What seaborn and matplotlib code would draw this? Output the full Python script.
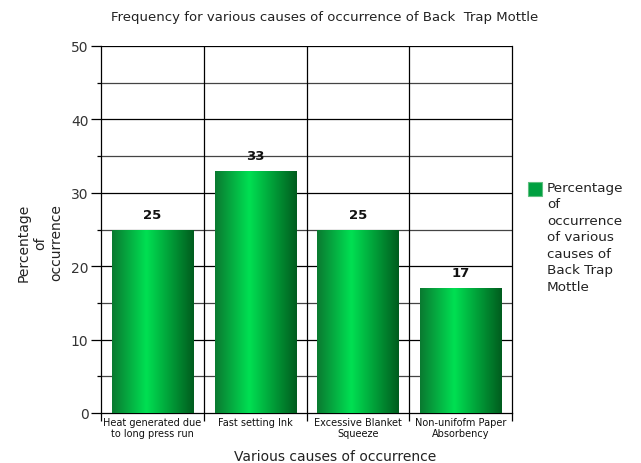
import matplotlib
matplotlib.use("Agg")
import matplotlib.pyplot as plt
import seaborn as sns
import numpy as np
import pandas as pd
from matplotlib.colors import LinearSegmentedColormap
from matplotlib.patches import Rectangle

# Data
causes = ["Heat generated due\nto long press run", "Fast setting Ink",
          "Excessive Blanket\nSqueeze", "Non-unifofm Paper\nAbsorbency"]
percent = [25, 33, 25, 17]
legend_label = "Percentage\nof\noccurrence\nof various\ncauses of\nBack Trap\nMottle"

df = pd.DataFrame({"cause": causes, "percent": percent})

sns.set_style("white")
plt.rcParams["font.family"] = ["DejaVu Sans"]

fig = plt.figure(figsize=(6.41, 4.64), dpi=100)
ax = fig.add_axes([101 / 641, 1 - 414 / 464, 411 / 641, 367 / 464])

sns.barplot(data=df, x="cause", y="percent", color="#00a040", width=0.79, ax=ax)

# gradient fill for each bar, clipped to the bar shape
green = LinearSegmentedColormap.from_list(
    "g", [(0, "#0a7a30"), (0.42, "#00e052"), (1, "#005c1e")])
grad = np.linspace(0, 1, 256).reshape(1, -1)
for bar in ax.patches:
    x0, y0 = bar.get_x(), bar.get_y()
    w, h = bar.get_width(), bar.get_height()
    bar.set_facecolor("none")
    bar.set_edgecolor("none")
    im = ax.imshow(grad, cmap=green, aspect="auto", extent=[x0, x0 + w, y0, y0 + h],
                   zorder=3, interpolation="bicubic")
    im.set_clip_path(bar)
    ax.text(x0 + w / 2, h + 1.2, f"{h:g}", ha="center", va="bottom",
            fontsize=9.5, fontweight="bold", color="#111111", zorder=4)

ax.set_xlim(-0.5, 3.5)
ax.set_ylim(0, 50)
ax.set_yticks(np.arange(0, 51, 10))
ax.set_yticks(np.arange(5, 50, 10), minor=True)
ax.set_xticks(np.arange(4))
ax.set_xticklabels(causes, fontsize=7, color="#111111", linespacing=1.1)
ax.set_xticks(np.arange(-0.5, 3.6, 1), minor=True)

for y in range(10, 51, 10):
    ax.axhline(y, color="black", lw=0.9, zorder=1)
for y in range(5, 50, 10):
    ax.axhline(y, color="#444444", lw=0.9, zorder=1)
for x in [0.5, 1.5, 2.5]:
    ax.axvline(x, color="black", lw=0.9, zorder=1)

ax.tick_params(axis="y", which="major", length=7, width=0.9, color="black",
               labelsize=10, labelcolor="#333333", pad=2, left=True)
ax.tick_params(axis="y", which="minor", length=3, width=0.9, color="black", left=True)
ax.tick_params(axis="x", which="major", length=0, pad=3)
ax.tick_params(axis="x", which="minor", length=6, width=0.9, color="black", bottom=True)

for s in ax.spines.values():
    s.set_visible(True)
    s.set_color("black")
    s.set_linewidth(0.9)
ax.spines["top"].set_visible(False)

ax.set_xlabel("")
ax.set_ylabel("")
fig.text(335 / 641, 1 - 457 / 464, "Various causes of occurrence", ha="center",
         va="center", fontsize=10, color="#222222")
fig.text(40 / 641, 1 - 243 / 464, "Percentage\nof\noccurrence", rotation=90,
         ha="center", va="center", fontsize=10, color="#222222", linespacing=1.2)
fig.text(325 / 641, 1 - 18 / 464, "Frequency for various causes of occurrence of Back  Trap Mottle",
         ha="center", va="center", fontsize=9.5, color="#222222")

# legend: swatch aligned with the first text line
fig.patches.append(Rectangle((528 / 641, 1 - 197 / 464), 14 / 641, 14 / 464,
                             transform=fig.transFigure, facecolor="#00a040",
                             edgecolor="#60c080", lw=0.8))
fig.text(547 / 641, 1 - 182 / 464, legend_label, ha="left", va="top",
         fontsize=9.7, color="#222222", linespacing=1.35)

fig.savefig("out.png", dpi=100)
